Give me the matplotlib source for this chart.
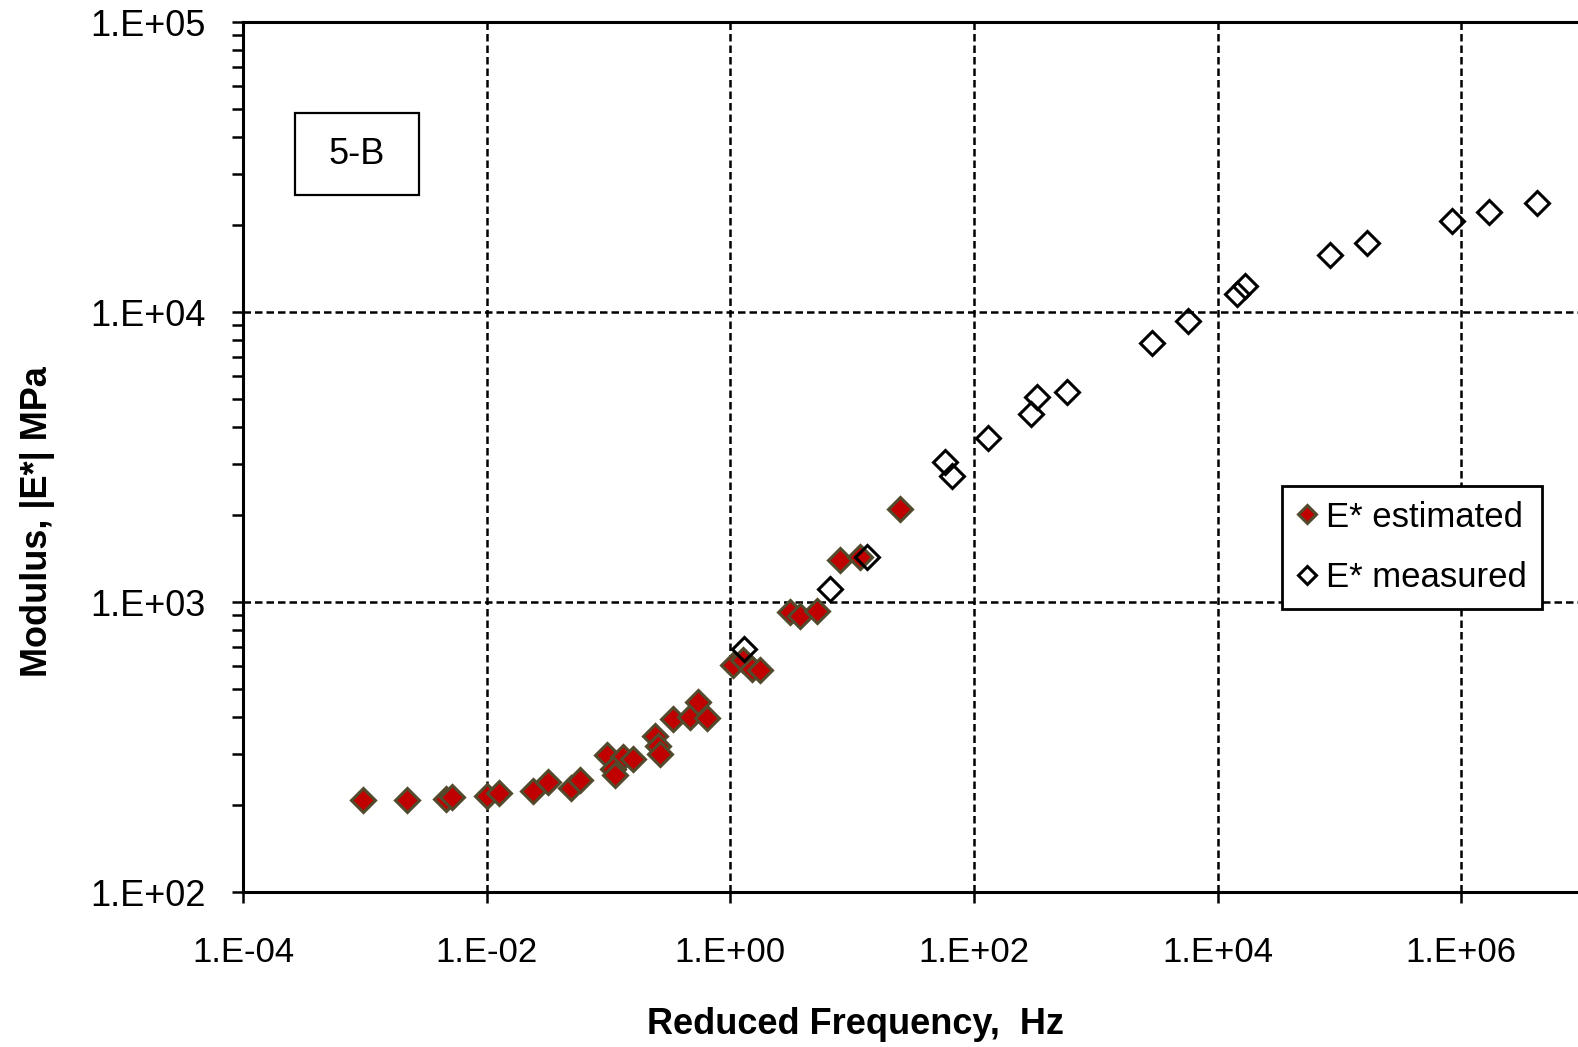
import matplotlib
matplotlib.use("Agg")
from matplotlib import pyplot as plt
from matplotlib.patches import Rectangle
from matplotlib.ticker import LogLocator, FixedLocator, FuncFormatter, NullLocator

plt.rcParams['font.family'] = ['Liberation Sans', 'DejaVu Sans']

# E* estimated (reduced frequency in Hz, modulus in MPa)
est_freq = [0.00097, 0.00222, 0.00465, 0.0052, 0.0101, 0.01265, 0.0240, 0.0319,
            0.0493, 0.0585, 0.0975, 0.132, 0.159, 0.109, 0.113, 0.242, 0.255,
            0.265, 0.339, 0.468, 0.545, 0.646, 1.05, 1.27, 1.51, 1.76, 3.10,
            3.74, 5.16, 7.96, 11.6, 24.8]
est_mod = [207, 207, 209, 213, 214, 219, 223, 239,
           229, 243, 296, 292, 288, 265, 253, 345, 318,
           299, 395, 401, 452, 398, 607, 631, 587, 583, 925,
           895, 931, 1396, 1429, 2094]

# E* measured
meas_freq = [1.30, 6.59, 13.3, 58.1, 66.2, 131, 295, 330, 582, 2904, 5741,
             14490, 16870, 84140, 169000, 843000, 1.70e6, 4.21e6]
meas_mod = [689, 1109, 1429, 3041, 2716, 3681, 4446, 5093, 5297, 7816, 9311,
            11535, 12303, 15740, 17298, 20606, 22131, 23768]

x_ticks = [1e-4, 1e-2, 1e0, 1e2, 1e4, 1e6]


def sci_label(v, pos):
    s = "%.0E" % v
    mant, exp = s.split("E")
    return "%s.E%s%02d" % (mant, exp[0], abs(int(exp)))


fig = plt.figure(figsize=(15.78, 10.47), dpi=100)
# the right end of the frequency axis runs just past the figure edge
ax = fig.add_axes([243 / 1578, 155 / 1047, 1340 / 1578, 870 / 1047])

ax.plot(est_freq, est_mod, linestyle="none", marker="D", markersize=12,
        markerfacecolor="#C00000", markeredgecolor="#524a2c", markeredgewidth=2.2,
        label="E* estimated", zorder=3)
ax.plot(meas_freq, meas_mod, linestyle="none", marker="D", markersize=12,
        markerfacecolor="none", markeredgecolor="black", markeredgewidth=2.2,
        label="E* measured", zorder=4)

ax.set_xscale("log")
ax.set_yscale("log")
ax.set_xlim(1e-4, 10 ** 7.0)
ax.set_ylim(1e2, 1e5)

ax.xaxis.set_major_locator(FixedLocator(x_ticks))
ax.xaxis.set_minor_locator(NullLocator())
ax.yaxis.set_major_locator(LogLocator(base=10.0, numticks=10))
ax.yaxis.set_minor_locator(LogLocator(base=10.0, subs=range(2, 10), numticks=20))
ax.xaxis.set_major_formatter(FuncFormatter(sci_label))
ax.yaxis.set_major_formatter(FuncFormatter(sci_label))

ax.grid(True, which="major", color="black", linestyle=(0, (3, 1.6)), linewidth=1.8)

for side in ["left", "bottom", "top"]:
    ax.spines[side].set_linewidth(2.2)
ax.spines["right"].set_visible(False)

ax.tick_params(axis="x", which="major", direction="out", length=8, width=1.8,
               labelsize=25, pad=24)
ax.tick_params(axis="y", which="both", direction="out", length=8, width=1.8,
               labelsize=26, pad=19)

ax.set_xlabel("Reduced Frequency,  Hz", fontsize=26, fontweight="bold")
ax.xaxis.set_label_coords((855 - 243) / 1340, -0.132)
fig.text(0.0235, 0.502, "Modulus, |E*| MPa", fontsize=26, fontweight="bold",
         rotation=90, ha="center", va="center")

# sample label box
ax.add_patch(Rectangle((52 / 1340, 0.801), 124 / 1340, 0.0943, transform=ax.transAxes,
                       facecolor="white", edgecolor="black", linewidth=1.6, zorder=5))
ax.text(114 / 1340, 0.848, "5-B", transform=ax.transAxes, fontsize=26,
        ha="center", va="center", zorder=6)

leg = ax.legend(loc="upper left", bbox_to_anchor=((1282 - 243) / 1340, 0.4667),
                fontsize=25, frameon=True, fancybox=False, framealpha=1,
                edgecolor="black", handlelength=0.6, handletextpad=0.25,
                labelspacing=0.8, borderpad=0.42, markerscale=0.8, borderaxespad=0)
leg.get_frame().set_linewidth(2)
leg.set_zorder(10)

fig.savefig("out.png", dpi=100)
